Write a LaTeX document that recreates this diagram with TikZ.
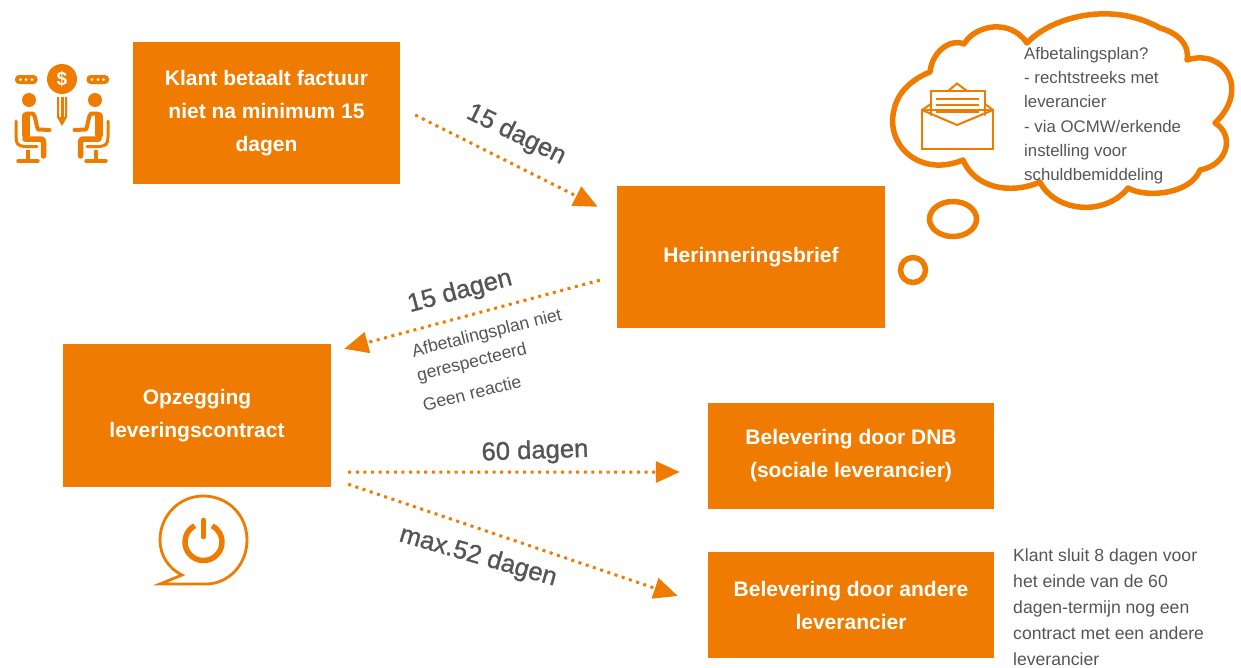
\documentclass[tikz,border=0pt]{standalone}
\usepackage{fontspec}
\setmainfont{Liberation Sans}
\newfontfamily\halfvet[FakeBold=1]{Liberation Sans}
\usetikzlibrary{shapes.geometric,arrows.meta}
\definecolor{oranje}{HTML}{EF7B00}
\definecolor{tekst}{HTML}{555555}
\newcommand{\persoon}{%
    \fill[oranje] (29,100) circle (7);
    \draw[icoon,line width=4pt] (27,113.5) -- (33,113.5) .. controls (36,116) and (36,126) .. (38,129.5) -- (49.5,130);
    \draw[icoon,line width=8pt] (25.5,116) -- (25.5,135);
    \draw[icoon,line width=5.5pt] (25,139) -- (40,139) .. controls (43,139) .. (43.5,143) -- (43.5,156);
    \draw[icoon,line width=3pt] (16,121) -- (16,137) .. controls (17,145) .. (24,146.5) -- (37,146.5);
    \draw[icoon,line width=4pt,line cap=butt] (28,150) -- (28,160);
    \draw[icoon,line width=3.5pt] (18,161) -- (38,161);
    \fill[oranje,rounded corners=4pt] (15,75) rectangle (37.5,84);
    \fill[white] (20.5,79.5) circle (1.5) (26,79.5) circle (1.5) (32,79.5) circle (1.5);
}
\tikzset{
  box/.style={fill=oranje,text=white,align=center,inner sep=0pt,font=\fontsize{21}{33}\selectfont\bfseries},
  tijd/.style={text=tekst,inner sep=0pt,font=\fontsize{25.6}{28}\halfvet},
  klein/.style={text=tekst,inner sep=0pt,font=\fontsize{17.6}{20}\selectfont},
  noot/.style={text=tekst,inner sep=0pt,anchor=base west,font=\fontsize{17.6}{20}\selectfont},
  wolk/.style={text=tekst,inner sep=0pt,anchor=base west,font=\fontsize{16.8}{20}\selectfont},
  pijl/.style={oranje,line width=3pt,dash pattern=on 3pt off 4.6pt,-{Triangle[length=24pt,width=21pt,sep=0pt]}},
  icoon/.style={oranje,line cap=round,line join=round},
}
\begin{document}
\begin{tikzpicture}[x=1pt,y=-1pt]
\useasboundingbox (0,0) rectangle (1241,667);
% boxes
\node[box,minimum width=267pt,minimum height=142pt] (klant) at (266.5,113) {Klant betaalt factuur\\niet na minimum 15\\dagen};
\node[box,minimum width=268pt,minimum height=142pt] (brief) at (751,257) {Herinneringsbrief};
\node[box,minimum width=268pt,minimum height=143pt] (opzeg) at (197,415.5) {Opzegging\\leveringscontract};
\node[box,minimum width=286pt,minimum height=106pt] (dnb) at (851,456) {Belevering door DNB\\(sociale leverancier)};
\node[box,minimum width=286pt,minimum height=106pt] (ander) at (851,605) {Belevering door andere\\leverancier};
% connector ends
\coordinate (a1) at ([xshift=15pt,yshift=-2pt]klant.east);
\coordinate (a2) at ([xshift=-19pt,yshift=-21pt]brief.north west);
\coordinate (b1) at ([xshift=-17pt,yshift=48pt]brief.south west);
\coordinate (b2) at ([xshift=13pt,yshift=-5pt]opzeg.north east);
\coordinate (c1) at ([xshift=17pt,yshift=15pt]opzeg.south east);
\coordinate (c2) at ([xshift=-28pt,yshift=-16pt]dnb.west);
\coordinate (d1) at ([xshift=17pt,yshift=3pt]opzeg.south east);
\coordinate (d2) at ([xshift=-30pt,yshift=9pt]ander.west);
\draw[pijl] (a1) -- (a2);
\draw[pijl] (b1) -- (b2);
\draw[pijl] (c1) -- (c2);
\draw[pijl] (d1) -- (d2);
% labels
\node[tijd,rotate=-26] (l1) at (516,135) {15 dagen};
\node[tijd,rotate=15] (l2) at (460,292) {15 dagen};
\node[klein,rotate=14] (l3) at (487,334) {Afbetalingsplan niet};
\node[klein,rotate=14] (l4) at (472,363) {gerespecteerd};
\node[klein,rotate=14] (l5) at (472,393) {Geen reactie};
\node[tijd,rotate=2] (l6) at (535,452) {60 dagen};
\node[tijd,rotate=-16] (l7) at (478,557) {max.52 dagen};
% side note
\node[noot] (n1) at (1013,561) {Klant sluit 8 dagen voor};
\node[noot] (n2) at (1013,587) {het einde van de 60};
\node[noot] (n3) at (1013,613) {dagen-termijn nog een};
\node[noot] (n4) at (1013,639) {contract met een andere};
\node[noot] (n5) at (1013,665) {leverancier};
% cloud
\draw[oranje,line width=5.5pt,line join=round] (930,72)
  .. controls (932,52) and (950,38) .. (964,44)
  .. controls (975,25) and (1010,18) .. (1027,43)
  .. controls (1050,18) and (1110,0) .. (1160,28)
  .. controls (1178,33) and (1190,45) .. (1187,60)
  .. controls (1225,48) and (1250,90) .. (1215,123)
  .. controls (1235,135) and (1228,165) .. (1200,170)
  .. controls (1190,195) and (1145,198) .. (1128,188)
  .. controls (1105,217) and (1055,212) .. (1040,182)
  .. controls (1010,195) and (975,188) .. (963,160)
  .. controls (920,178) and (885,145) .. (894,110)
  .. controls (898,90) and (915,78) .. (930,72) -- cycle;
\node[draw=oranje,line width=5.5pt,ellipse,minimum width=47pt,minimum height=35pt,inner sep=0pt] (g1) at (953,219) {};
\node[draw=oranje,line width=5.5pt,circle,minimum size=25pt,inner sep=0pt] (g2) at (913,270) {};
% cloud text
\node[wolk] (t1) at (1024,59) {Afbetalingsplan?};
\node[wolk] (t2) at (1024,83) {- rechtstreeks met};
\node[wolk] (t3) at (1024,107) {leverancier};
\node[wolk] (t4) at (1024,132) {- via OCMW/erkende};
\node[wolk] (t5) at (1024,156) {instelling voor};
\node[wolk] (t6) at (1024,180) {schuldbemiddeling};
% envelope
\draw[icoon,line width=2pt,line join=miter] (922,110) rectangle (993,149);
\draw[icoon,line width=2pt,line join=miter] (922,110) -- (957,125) -- (993,110);
\draw[icoon,line width=2pt,line join=miter] (931,115) -- (931,91) -- (985,91) -- (985,115);
\draw[icoon,line width=2pt,line join=miter] (948,91) -- (957,83.5) -- (967,91);
\draw[icoon,line width=2pt,line cap=butt] (936,98.5) -- (979,98.5) (936,105) -- (979,105) (936,111.5) -- (979,111.5);
\draw[icoon,line width=2pt,line join=miter] (922,110) -- (931,104) (993,110) -- (985,104);
% people and the dollar medallion
\persoon
\begin{scope}[xshift=124pt,xscale=-1]
\persoon
\end{scope}
\node[circle,fill=oranje,text=white,minimum size=30pt,inner sep=0pt,font=\fontsize{19}{19}\selectfont\bfseries] (geld) at (62,79) {\$};
\draw[icoon,line width=2pt,line cap=butt,line join=miter] (58,97) -- (58,117) -- (62,124) -- (66,117) -- (66,97);
\fill[oranje] (60.5,97) rectangle (63.5,117);
\fill[oranje] (58.5,117) -- (65.5,117) -- (62,124.5) -- cycle;
% power bubble
\draw[oranje,line width=2.8pt,line join=miter] (206,584) -- (160,584) -- (182,575)
  .. controls (168,568) and (160,555) .. (160,540)
  .. controls (160,515) and (180,496) .. (203,496)
  .. controls (228,496) and (247,515) .. (247,540)
  .. controls (247,565) and (228,584) .. (206,584) -- cycle;
\draw[oranje,line width=5.5pt,line cap=butt] (194.8,525.7) arc[start angle=-118,delta angle=-304,radius=18.5];
\draw[oranje,line width=4.5pt,line cap=round] (203.5,520) -- (203.5,537);
\end{tikzpicture}
\end{document}
